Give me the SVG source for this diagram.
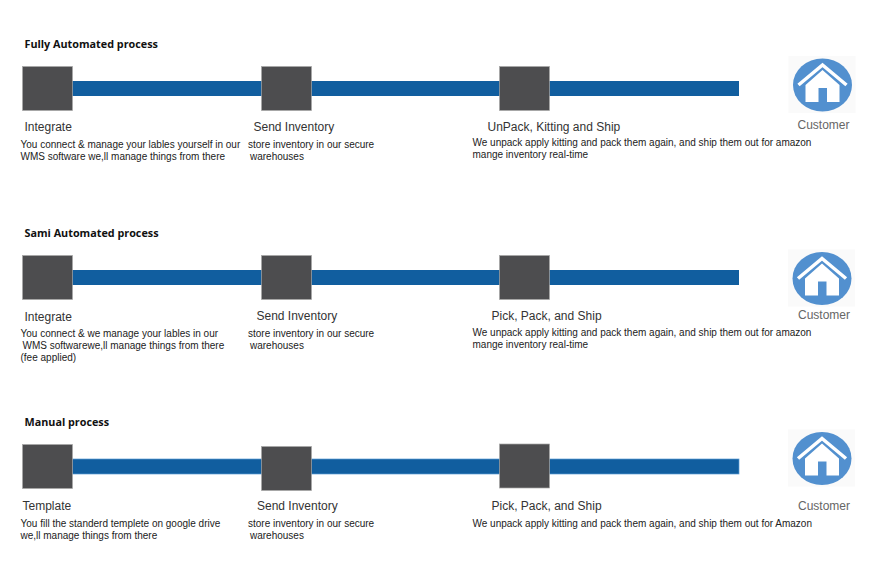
<svg xmlns="http://www.w3.org/2000/svg" width="894" height="581" viewBox="0 0 894 581">
<style>
text{font-family:"Liberation Sans",Arial,sans-serif;fill:#222}
.h{font-family:"Open Sans","Noto Sans",sans-serif;font-weight:700;font-size:10.8px;fill:#111}
.l{font-size:12px;fill:#333}
.d{font-size:10px;fill:#222}
.c{font-size:12px;fill:#666}
.n{fill:#4d4d4f;stroke:#a8a8a8;stroke-width:.7}
.bar{fill:#115e9f}
.edge{stroke:#5b9bd5;stroke-width:.7}
.disc{fill:#5290cf}
.roof{fill:none;stroke:#fff;stroke-width:3.5}
.body{fill:#fff}
</style>
<defs>
<g id="home">
<rect x="-34" y="-29" width="67" height="57" fill="#fafafa"/>
<ellipse cx="0" cy="0" rx="29.500" ry="26.500" class="disc"/>
<path class="roof" d="M-24 0L0-20L24 0"/>
<path class="body" d="M-17 0L0-15L17 0V17H4.500V3H-4V17H-17Z"/>
</g>
</defs>
<rect width="894" height="581" fill="#fff"/>
<g id="connectors">
<rect class="bar" x="72" y="81" width="667" height="15"/>
<rect class="bar" x="72" y="270" width="667" height="15"/>
<rect class="bar edge" x="72" y="459" width="667" height="15"/>
</g>
<g id="row1">
<text class="h" x="24.500" y="48">Fully Automated process</text>
<g id="n1-1"><rect class="n" x="22.500" y="66.500" width="50" height="44"/><text class="l" x="24.500" y="131">Integrate</text><text class="d" x="20.500" y="148">You connect &amp; manage your lables yourself in our</text><text class="d" x="20.500" y="160">WMS software we,ll manage things from there</text></g>
<g id="n1-2"><rect class="n" x="261.500" y="66.500" width="50" height="44"/><text class="l" x="253.500" y="131">Send Inventory</text><text class="d" x="248" y="148">store inventory in our secure</text><text class="d" x="250" y="160">warehouses</text></g>
<g id="n1-3"><rect class="n" x="499.500" y="66.500" width="50" height="44"/><text class="l" x="487.500" y="131">UnPack, Kitting and Ship</text><text class="d" x="472.500" y="146">We unpack apply kitting and pack them again, and ship them out for amazon</text><text class="d" x="472.500" y="158">mange inventory real-time</text></g>
<g id="n1-4"><use href="#home" x="822.500" y="85"/><text class="c" x="797.500" y="129">Customer</text></g>
</g>
<g id="row2">
<text class="h" x="24.500" y="237">Sami Automated process</text>
<g id="n2-1"><rect class="n" x="22.500" y="255.500" width="50" height="44"/><text class="l" x="24.500" y="321">Integrate</text><text class="d" x="20.500" y="337">You connect &amp; we manage your lables in our</text><text class="d" x="22.500" y="349">WMS softwarewe,ll manage things from there</text><text class="d" x="20.500" y="361">(fee applied)</text></g>
<g id="n2-2"><rect class="n" x="261.500" y="255.500" width="50" height="44"/><text class="l" x="256.500" y="320">Send Inventory</text><text class="d" x="248" y="337">store inventory in our secure</text><text class="d" x="250" y="349">warehouses</text></g>
<g id="n2-3"><rect class="n" x="499.500" y="255.500" width="50" height="44"/><text class="l" x="491.500" y="320">Pick, Pack, and Ship</text><text class="d" x="472.500" y="336">We unpack apply kitting and pack them again, and ship them out for amazon</text><text class="d" x="472.500" y="348">mange inventory real-time</text></g>
<g id="n2-4"><use href="#home" x="822" y="278.500"/><text class="c" x="798" y="319">Customer</text></g>
</g>
<g id="row3">
<text class="h" x="24.500" y="426">Manual process</text>
<g id="n3-1"><rect class="n" x="22.500" y="444.500" width="50" height="44"/><text class="l" x="22.500" y="510">Template</text><text class="d" x="20.500" y="527">You fill the standerd templete on google drive</text><text class="d" x="20.500" y="539">we,ll manage things from there</text></g>
<g id="n3-2"><rect class="n" x="261.500" y="446.500" width="50" height="44"/><text class="l" x="257" y="510">Send Inventory</text><text class="d" x="248" y="527">store inventory in our secure</text><text class="d" x="250" y="539">warehouses</text></g>
<g id="n3-3"><rect class="n" x="499.500" y="444" width="50" height="44"/><text class="l" x="491.500" y="510">Pick, Pack, and Ship</text><text class="d" x="472.500" y="527">We unpack apply kitting and pack them again, and ship them out for Amazon</text></g>
<g id="n3-4"><use href="#home" x="822" y="458.500"/><text class="c" x="798" y="510">Customer</text></g>
</g>
</svg>
